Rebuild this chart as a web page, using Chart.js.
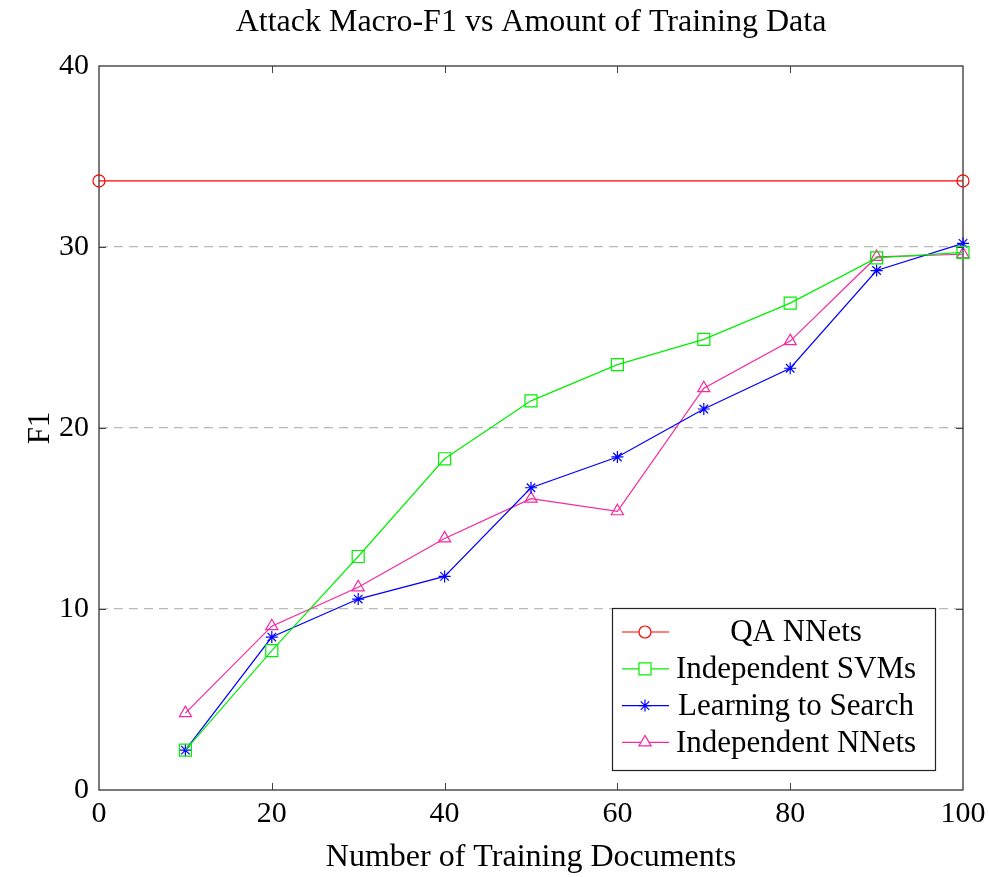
<!DOCTYPE html>
<html>
<head>
<meta charset="utf-8">
<script src="https://cdn.jsdelivr.net/npm/chart.js@4"></script>
<style>
  body { margin: 0; background: #fff; }
  #wrap { width: 989px; height: 877px; }
</style>
</head>
<body>
<div id="wrap"><canvas id="myChart" width="989" height="877"></canvas></div>
<script>
const docs = [10, 20, 30, 40, 50, 60, 70, 80, 90, 100];
const qaX = [0, 100];
const qaNNets = [33.65, 33.65];
const indepSVMs = [2.2, 7.7, 12.9, 18.3, 21.5, 23.5, 24.9, 26.9, 29.4, 29.7];
const learnSearch = [2.2, 8.45, 10.55, 11.8, 16.7, 18.4, 21.05, 23.3, 28.7, 30.2];
const indepNNets = [4.25, 9.05, 11.2, 13.9, 16.1, 15.4, 22.2, 24.8, 29.45, 29.6];
const xTicks = [0, 20, 40, 60, 80, 100];
const yTicks = [0, 10, 20, 30, 40];

const serif = "'Liberation Serif', 'Times New Roman', serif";
const pink = 'rgb(245, 40, 160)';

function pts(xs, ys) {
  return xs.map((x, i) => ({ x: x, y: ys[i] }));
}

function series(label, xs, ys, color, style, radius) {
  return {
    label: label,
    data: pts(xs, ys),
    borderColor: color,
    backgroundColor: 'rgba(0,0,0,0)',
    borderWidth: 1.2,
    pointStyle: style,
    pointRadius: radius,
    pointHoverRadius: radius,
    pointBorderColor: color,
    pointBackgroundColor: 'rgba(0,0,0,0)',
    pointBorderWidth: 1.2,
    tension: 0,
    clip: false
  };
}

const data = {
  datasets: [
    series('QA NNets', qaX, qaNNets, 'rgb(255, 0, 0)', 'circle', 6),
    series('Independent SVMs', docs, indepSVMs, 'rgb(0, 240, 0)', 'rect', 8.5),
    series('Learning to Search', docs, learnSearch, 'rgb(0, 0, 255)', 'star', 6),
    series('Independent NNets', docs, indepNNets, pink, 'triangle', 7)
  ]
};

// frame, inward ticks, title and boxed legend
const decor = {
  id: 'decor',
  beforeDatasetsDraw(chart) {
    const ctx = chart.ctx;
    const a = chart.chartArea;
    const xs = chart.scales.x, ys = chart.scales.y;
    ctx.save();
    ctx.strokeStyle = '#444';
    ctx.lineWidth = 1;
    xTicks.slice(1, -1).forEach(v => {
      const px = Math.round(xs.getPixelForValue(v)) + 0.5;
      ctx.beginPath();
      ctx.moveTo(px, a.bottom); ctx.lineTo(px, a.bottom - 7);
      ctx.moveTo(px, a.top); ctx.lineTo(px, a.top + 7);
      ctx.stroke();
    });
    yTicks.slice(1, -1).forEach(v => {
      const py = Math.round(ys.getPixelForValue(v)) + 0.5;
      ctx.beginPath();
      ctx.moveTo(a.left, py); ctx.lineTo(a.left + 7, py);
      ctx.moveTo(a.right, py); ctx.lineTo(a.right - 7, py);
      ctx.stroke();
    });
    ctx.strokeStyle = '#333';
    ctx.lineWidth = 1.3;
    ctx.strokeRect(a.left, a.top, a.right - a.left, a.bottom - a.top);
    ctx.restore();
  },
  afterDraw(chart) {
    const ctx = chart.ctx;
    const a = chart.chartArea;
    ctx.save();
    // title
    ctx.fillStyle = '#000';
    ctx.font = '32px ' + serif;
    ctx.textAlign = 'center';
    ctx.textBaseline = 'middle';
    ctx.fillText('Attack Macro-F1 vs Amount of Training Data', (a.left + a.right) / 2, 23);

    // legend
    const bx = 612, by = 608, bw = 323, bh = 162;
    ctx.fillStyle = '#fff';
    ctx.fillRect(bx, by, bw, bh);
    ctx.strokeStyle = '#222';
    ctx.lineWidth = 1.2;
    ctx.strokeRect(bx + 0.5, by + 0.5, bw, bh);
    chart.data.datasets.forEach((ds, i) => {
      const cy = by + 24 + i * 36.8;
      ctx.strokeStyle = ds.borderColor;
      ctx.lineWidth = 1.2;
      ctx.beginPath();
      ctx.moveTo(bx + 10, cy); ctx.lineTo(bx + 57, cy);
      ctx.stroke();
      ctx.fillStyle = '#fff';
      Chart.helpers.drawPoint(ctx, {
        pointStyle: ds.pointStyle,
        radius: ds.pointRadius,
        borderWidth: 1.2,
        rotation: 0
      }, bx + 33, cy);
      ctx.fillStyle = '#000';
      ctx.font = '31px ' + serif;
      ctx.textAlign = 'center';
      ctx.fillText(ds.label, bx + 184, cy + 1);
    });
    ctx.restore();
  }
};

const config = {
  type: 'line',
  data: data,
  options: {
    responsive: false,
    animation: false,
    layout: { padding: { top: 66, right: 26, left: 0, bottom: 0 } },
    plugins: {
      legend: { display: false },
      tooltip: { enabled: false }
    },
    scales: {
      x: {
        type: 'linear',
        min: 0,
        max: 100,
        afterBuildTicks: s => { s.ticks = xTicks.map(v => ({ value: v })); },
        afterFit: s => { s.height = 87; s.paddingRight = 0; s.paddingLeft = 0; },
        grid: { display: false, drawTicks: false },
        border: { display: false },
        ticks: { color: '#000', padding: 6, maxRotation: 0, font: { family: serif, size: 30 } },
        title: { display: true, text: 'Number of Training Documents', color: '#000', padding: { top: 0, bottom: 0 }, font: { family: serif, size: 32 } }
      },
      y: {
        min: 0,
        max: 40,
        afterBuildTicks: s => { s.ticks = yTicks.map(v => ({ value: v })); },
        afterFit: s => { s.width = 99; s.paddingTop = 0; s.paddingBottom = 0; },
        grid: {
          drawTicks: false,
          color: c => (c.tick.value === 0 || c.tick.value === 40) ? 'rgba(0,0,0,0)' : 'rgb(185,185,185)',
          lineWidth: 1.2
        },
        border: { display: false, dash: [9, 6] },
        ticks: { color: '#000', padding: 10, font: { family: serif, size: 30 } },
        title: { display: true, text: 'F1', color: '#000', padding: { top: 22, bottom: 0 }, font: { family: serif, size: 31 } }
      }
    }
  },
  plugins: [decor]
};

const myChart = new Chart(document.getElementById('myChart'), config);
</script>
</body>
</html>
